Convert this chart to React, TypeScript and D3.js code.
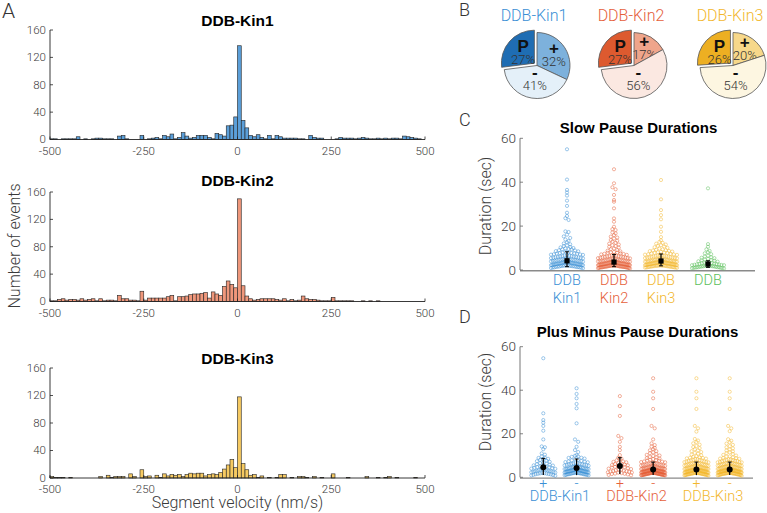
import React from 'react';
import * as d3 from 'd3';

// ---------- Panel A: histogram data (bins of 10 nm/s from -500 to 500) ----------
const BIN_WIDTH = 10;
const BIN_STARTS = d3.range(-500, 500, BIN_WIDTH);
const KIN1_COUNTS = [
  1, 1, 0, 1, 1, 1, 1, 4, 0, 1,
  0, 1, 2, 2, 1, 1, 1, 0, 5, 6,
  1, 0, 0, 0, 6, 0, 1, 2, 3, 1,
  6, 4, 8, 1, 3, 10, 5, 2, 3, 6,
  6, 6, 3, 1, 9, 7, 5, 20, 21, 33,
  137, 28, 17, 6, 4, 7, 3, 1, 6, 1,
  6, 4, 2, 2, 2, 2, 1, 1, 0, 6,
  3, 2, 2, 0, 0, 0, 1, 3, 2, 2,
  2, 1, 2, 3, 2, 1, 1, 2, 1, 2,
  1, 2, 2, 1, 5, 4, 3, 2, 1, 0,
];
const KIN2_COUNTS = [
  1, 1, 3, 4, 2, 3, 3, 2, 4, 2,
  3, 4, 1, 4, 1, 2, 2, 1, 9, 4,
  4, 2, 2, 1, 15, 2, 5, 5, 5, 5,
  5, 7, 9, 1, 7, 7, 8, 10, 11, 11,
  12, 13, 5, 14, 11, 9, 22, 30, 25, 20,
  150, 23, 8, 4, 2, 3, 4, 4, 4, 4,
  3, 2, 4, 1, 3, 1, 2, 8, 4, 3,
  3, 2, 1, 1, 1, 6, 1, 1, 1, 1,
  1, 0, 0, 1, 0, 1, 0, 1, 0, 0,
  0, 0, 0, 0, 0, 0, 0, 0, 0, 0,
];
const KIN3_COUNTS = [
  2, 1, 1, 1, 0, 1, 0, 0, 0, 0,
  0, 0, 0, 2, 0, 4, 1, 2, 2, 2,
  0, 6, 2, 0, 12, 2, 3, 0, 4, 1,
  6, 3, 5, 4, 5, 2, 5, 7, 6, 7,
  7, 3, 5, 6, 5, 8, 13, 19, 27, 15,
  118, 21, 12, 4, 5, 1, 3, 0, 1, 0,
  1, 5, 5, 0, 1, 0, 2, 2, 1, 0,
  2, 0, 1, 0, 0, 6, 0, 0, 0, 1,
  0, 0, 0, 0, 2, 0, 0, 1, 0, 1,
  2, 0, 1, 0, 0, 0, 0, 1, 0, 0,
];
const HIST_TITLES = ['DDB-Kin1', 'DDB-Kin2', 'DDB-Kin3'];
const HIST_X_TICKS = [-500, -250, 0, 250, 500];
const HIST_Y_TICKS = [0, 40, 80, 120, 160];

// ---------- Panel B: pies ----------
const PIE_TITLES = ['DDB-Kin1', 'DDB-Kin2', 'DDB-Kin3'];
const PIE_PLUS = [32, 17, 20];
const PIE_MINUS = [41, 56, 54];
const PIE_PAUSE = [27, 27, 26];
const PIE_SYMBOLS = ['+', '-', 'P'];

// ---------- Panel C: slow pause durations (sec) ----------
const C_LABELS = [['DDB', 'Kin1'], ['DDB', 'Kin2'], ['DDB', 'Kin3'], ['DDB']];
const C_KIN1 = [55.0, 41.2, 36.5, 35.3, 33.9, 31.6, 29.2, 26.1, 24.6, 23.6, 22.8, 17.6, 17.3, 16.1, 15.3, 14.6, 13.9, 13.2, 12.6, 12.1, 11.7, 11.2, 10.9, 10.5, 10.3, 10.0,
  9.8, 3.1, 5.6, 2.4, 7.2, 1.8, 4.4, 9.3, 2.9, 6.1, 3.7, 1.2, 8.6, 4.9, 2.2, 5.2, 3.3, 7.8, 1.5, 6.6, 2.7, 4.1, 9.0, 3.5, 1.9, 5.8, 2.5, 8.1, 4.6, 1.1, 3.9, 6.9, 2.1, 5.0,
  7.5, 3.0, 1.6, 4.3, 8.9, 2.8, 6.3, 3.6, 1.3, 5.4, 9.6, 2.3, 4.7, 7.0, 1.7, 3.2, 6.0, 2.0, 8.3, 4.0, 1.0, 5.5, 3.4, 7.4, 2.6, 4.8, 1.4, 6.5, 3.8, 9.4, 2.1, 5.1, 0.8,
  4.2, 7.7, 2.9, 3.3, 6.2, 1.9, 4.5, 8.0, 2.4, 5.7, 3.0, 1.2, 6.8, 4.1, 2.6, 3.7, 7.1, 1.6, 5.3, 2.2, 4.9, 0.9, 3.5, 8.5, 2.8, 6.4, 1.8, 4.6, 3.1, 5.9, 2.3, 7.6, 1.4];
const C_KIN2 = [45.9, 39.5, 37.7, 36.8, 34.2, 31.9, 31.1, 28.1, 23.5, 22.0, 19.7, 18.6, 18.2, 17.1, 16.7, 15.9, 15.2, 14.8, 14.3, 13.7, 13.3, 12.9, 12.4, 12.0, 11.6, 11.3, 10.9, 10.6, 10.2,
  3.2, 1.4, 5.1, 2.6, 7.4, 0.9, 4.0, 2.1, 6.3, 3.6, 1.7, 8.8, 2.9, 4.7, 1.2, 5.8, 3.0, 2.3, 9.5, 1.9, 4.4, 3.3, 6.9, 2.5, 1.5, 5.3, 3.8, 2.0, 7.9, 1.1, 4.2, 2.7, 6.0,
  3.4, 1.6, 8.2, 2.2, 4.9, 3.1, 1.3, 5.6, 2.8, 7.1, 1.8, 3.9, 2.4, 6.6, 1.0, 4.5, 3.2, 2.0, 9.1, 1.5, 5.0, 2.6, 3.7, 1.2, 6.2, 2.9, 4.1, 0.8, 7.6, 3.5, 1.9, 5.4, 2.3,
  4.8, 1.4, 3.0, 8.5, 2.1, 6.8, 1.7, 4.3, 2.7, 3.6, 1.1, 5.9, 2.4, 7.3, 1.6, 3.3, 4.6, 2.0, 9.8, 1.3, 5.2, 2.8, 3.9, 1.0, 6.4, 2.5, 4.0, 1.8, 3.4, 7.8, 2.2, 5.7, 1.5,
  3.1, 2.6, 4.4, 0.7, 6.1, 1.9, 3.7, 2.3, 5.5, 1.2, 8.0, 2.9, 4.2, 1.6, 3.5, 2.1, 6.7, 1.4, 4.9];
const C_KIN3 = [41.0, 32.2, 27.3, 25.0, 23.1, 19.7, 17.4, 15.0, 13.5, 12.8, 12.4, 12.0, 11.6, 11.3, 11.0, 10.7, 10.4, 10.1,
  4.1, 2.3, 6.2, 1.5, 8.3, 3.4, 5.0, 2.7, 9.4, 1.9, 4.6, 3.0, 7.1, 2.1, 5.5, 1.2, 3.8, 6.8, 2.5, 4.3, 1.7, 8.9, 3.2, 5.8, 2.0, 4.0, 7.5, 1.4, 3.6, 2.8, 6.4, 4.8,
  1.1, 9.7, 3.3, 5.2, 2.2, 7.8, 1.8, 4.5, 3.0, 6.0, 2.6, 8.1, 1.3, 3.9, 5.6, 2.4, 4.2, 7.0, 1.6, 3.5, 9.0, 2.9, 5.1, 1.0, 6.6, 3.7, 2.1, 4.7, 8.6, 1.9, 3.1, 5.4,
  2.5, 7.3, 1.5, 4.4, 3.3, 6.1, 2.0, 9.2, 3.9, 1.2, 5.7, 2.7, 4.1, 7.7, 1.7, 3.4, 6.3, 2.3, 4.9, 1.4, 8.4, 3.0, 5.3, 2.8, 6.9, 1.8, 4.0, 3.6, 2.2, 7.2, 1.1, 5.0,
  3.2, 4.6, 2.6, 8.7, 1.6, 3.8, 6.5, 2.4, 5.9, 1.3, 4.3, 3.1, 7.9, 2.0, 4.8, 1.9, 6.7, 3.5, 2.9];
const C_DDB = [37.2, 11.8, 10.6, 9.4, 3.6, 1.3, 8.7, 2.2, 5.1, 1.0, 8.1, 2.8, 4.5, 1.6, 7.6, 2.0, 0.8, 3.2, 7.2, 1.8, 6.5, 2.5, 4.2, 1.2, 6.1, 3.4, 1.5,
  5.8, 2.3, 0.9, 5.4, 2.9, 1.7, 4.8, 2.1, 1.1, 4.0, 2.6, 3.8, 1.4, 3.1, 1.9, 0.7, 2.4, 1.6, 3.5, 1.3, 2.7, 4.4, 1.0, 2.0, 5.6, 1.7, 2.2, 1.2];
const C_MEAN = [4.2, 3.6, 4.1, 2.7];
const C_LO = [1.5, 1.5, 1.9, 1.2];
const C_HI = [8.3, 7.1, 7.3, 4.2];

// ---------- Panel D: plus / minus pause durations (sec) ----------
const D_POSITIONS = [1, 2, 3.3, 4.3, 5.6, 6.6];
const D_SIGNS = ['+', '-', '+', '-', '+', '-'];
const D_GROUP_LABELS = ['DDB-Kin1', 'DDB-Kin2', 'DDB-Kin3'];
const D_KIN1_PLUS = [54.7, 29.4, 26.3, 25.1, 23.6, 21.4, 17.4, 14.2, 13.8, 12.9, 11.0, 10.4, 9.6, 2.4, 6.7, 1.3, 9.1, 3.9, 5.5, 1.8, 8.9, 4.4, 2.7, 8.5,
  3.3, 0.9, 6.3, 2.0, 8.4, 4.8, 1.5, 8.0, 3.6, 5.2, 2.3, 7.6, 4.0, 1.1, 7.4, 3.1, 5.8, 2.6, 7.1, 4.6, 1.6, 6.0, 3.0, 2.2, 5.0, 3.7, 1.4, 4.2, 2.8, 1.9, 3.4, 0.7,
  4.7, 2.9, 5.4, 6.5, 1.7, 3.5, 1.0];
const D_KIN1_MINUS = [40.9, 38.3, 36.3, 33.7, 31.7, 24.8, 17.4, 16.3, 14.0, 12.5, 11.6, 10.2, 9.9,
  9.4, 3.1, 6.0, 2.2, 4.5, 1.3, 7.8, 3.6, 2.7, 5.2, 1.8, 8.6, 3.9, 2.4, 6.7, 1.1, 4.1, 3.0, 5.7, 2.0, 7.2, 1.6, 3.4, 4.8, 2.6, 9.0, 1.4, 3.8, 5.5, 2.1, 6.3, 1.9,
  4.3, 3.2, 8.1, 2.5, 1.0, 5.0, 3.5, 7.0, 1.7, 2.9, 4.6, 6.6, 2.3, 3.7, 1.2, 5.3, 2.8, 8.9, 4.0, 1.5, 3.3, 6.2, 2.0, 4.9, 1.8, 7.5, 3.0, 2.4, 5.8, 1.3, 4.4, 3.6,
  9.6, 2.2, 6.9, 1.6, 3.9, 2.7, 5.1, 1.1, 4.2, 8.3, 2.6, 3.4, 6.4, 1.9, 4.7, 2.1, 7.3, 3.1, 1.4, 5.6, 2.9, 4.0, 0.9, 3.8, 6.0, 2.5];
const D_KIN2_PLUS = [37.3, 32.7, 28.2, 19.0, 18.0, 16.3, 14.0, 12.5, 10.2, 9.0, 3.8, 8.6, 1.3, 8.2, 5.0, 7.8, 2.5, 7.3, 4.2, 6.9, 1.9, 6.5, 3.3, 6.1, 0.9, 5.8,
  2.9, 5.5, 4.0, 5.2, 1.5, 4.7, 2.1, 4.5, 3.5, 1.1, 3.1, 2.7, 2.3, 1.7, 6.3, 3.6, 2.2, 4.8, 1.6, 7.1, 5.6, 2.8];
const D_KIN2_MINUS = [45.5, 39.3, 36.3, 31.4, 23.6, 22.5, 17.4, 15.6, 14.8, 14.1, 13.5, 12.9, 12.4, 12.0, 11.5, 11.1, 10.7, 10.3, 10.0,
  2.1, 4.3, 1.2, 3.5, 6.8, 1.8, 2.9, 5.1, 0.9, 3.2, 7.9, 2.4, 1.5, 4.6, 2.7, 9.3, 1.1, 3.8, 5.7, 2.0, 1.6, 4.0, 2.5, 8.4, 1.3, 3.0, 6.2, 2.2, 1.9, 4.8, 3.4, 1.0,
  7.3, 2.6, 3.9, 1.4, 5.4, 2.3, 1.7, 9.8, 3.1, 2.8, 4.4, 1.2, 6.5, 2.0, 3.6, 1.6, 5.0, 2.5, 8.8, 1.1, 3.3, 4.1, 2.1, 7.0, 1.8, 2.9, 5.9, 1.4, 3.7, 2.4, 4.7, 1.0,
  6.0, 2.7, 3.2, 1.5, 8.1, 2.2, 4.2, 1.9, 3.5, 5.3, 1.3, 2.6, 7.6, 3.9, 1.7, 2.0, 4.5, 1.1, 6.6, 3.0, 2.3, 5.6, 1.6, 9.1, 2.8, 3.4, 1.2, 4.9, 2.1, 7.2, 1.8, 3.8,
  2.5, 5.2, 1.4, 3.1, 6.3, 2.0, 1.0, 4.3, 2.7, 8.6, 1.5, 3.6, 2.2, 5.8, 1.9, 4.0, 2.9, 1.3, 6.9, 3.3, 2.4, 1.7, 4.6, 3.0, 7.7, 1.1, 2.6, 5.5, 3.7, 1.6, 2.1, 4.1, 1.2, 6.4];
const D_KIN3_PLUS = [45.5, 39.3, 36.3, 31.4, 23.6, 22.5, 21.0, 17.6, 16.9, 16.2, 15.6, 15.0, 14.4, 13.9, 13.4, 12.9, 12.4, 12.0, 11.6, 11.2, 10.8, 10.4, 10.1,
  4.1, 2.3, 6.2, 1.5, 8.3, 3.4, 5.0, 2.7, 9.4, 1.9, 4.6, 3.0, 7.1, 2.1, 5.5, 1.2, 3.8, 6.8, 2.5, 4.3, 1.7, 8.9, 3.2, 5.8, 2.0, 4.0, 7.5, 1.4, 3.6, 2.8, 6.4, 4.8,
  1.1, 9.7, 3.3, 5.2, 2.2, 7.8, 1.8, 4.5, 3.0, 6.0, 2.6, 8.1, 1.3, 3.9, 5.6, 2.4, 4.2, 7.0, 1.6, 3.5, 9.0, 2.9, 5.1, 1.0, 6.6, 3.7, 2.1, 4.7, 8.6, 1.9, 3.1, 5.4,
  2.5, 7.3, 1.5, 4.4, 3.3, 6.1, 2.0, 9.2, 3.9, 1.2, 5.7, 2.7, 4.1, 7.7, 1.7, 3.4, 6.3, 2.3, 4.9, 1.4, 8.4, 3.0, 5.3, 2.8, 6.9, 1.8, 4.0, 3.6, 2.2, 7.2, 1.1, 5.0,
  3.2, 4.6, 2.6, 8.7, 1.6, 3.8, 6.5, 2.4, 5.9, 1.3, 4.3, 3.1, 7.9, 2.0, 4.8, 1.9, 6.7, 3.5, 2.9, 0.9, 2.2, 1.4, 3.0, 1.7, 2.5, 1.0, 3.3, 1.2, 2.0, 0.8, 2.7, 1.5];
const D_KIN3_MINUS = [45.5, 39.3, 36.3, 31.4, 23.6, 22.5, 21.2, 17.5, 16.8, 16.1, 15.5, 14.9, 14.3, 13.8, 13.3, 12.8, 12.3, 11.9, 11.5, 11.1, 10.7, 10.3, 10.0,
  3.9, 2.2, 6.1, 1.6, 8.2, 3.5, 4.9, 2.6, 9.5, 1.8, 4.7, 3.1, 7.0, 2.0, 5.4, 1.3, 3.7, 6.9, 2.4, 4.2, 1.8, 8.8, 3.3, 5.9, 2.1, 4.1, 7.4, 1.5, 3.5, 2.9, 6.3, 4.7,
  1.2, 9.6, 3.2, 5.3, 2.3, 7.9, 1.7, 4.6, 2.9, 6.1, 2.7, 8.0, 1.4, 3.8, 5.5, 2.5, 4.3, 6.9, 1.7, 3.6, 8.9, 2.8, 5.0, 1.1, 6.7, 3.6, 2.2, 4.8, 8.5, 2.0, 3.0, 5.5,
  2.4, 7.4, 1.6, 4.5, 3.4, 6.0, 2.1, 9.1, 3.8, 1.3, 5.8, 2.6, 4.0, 7.6, 1.8, 3.3, 6.4, 2.4, 5.0, 1.5, 8.3, 3.1, 5.2, 2.9, 6.8, 1.9, 4.1, 3.5, 2.3, 7.1, 1.0, 5.1,
  3.1, 4.5, 2.7, 8.6, 1.7, 3.9, 6.6, 2.5, 5.8, 1.2, 4.4, 3.0, 7.8, 2.1, 4.9, 1.8, 6.6, 3.4, 2.8, 1.0, 2.3, 1.3, 3.1, 1.6, 2.6, 0.9, 3.2, 1.1, 2.1, 0.7, 2.6, 1.4];
const D_MEAN = [4.6, 4.3, 5.2, 3.6, 3.6, 3.6];
const D_LO = [1.0, 1.0, 1.5, 1.0, 1.0, 1.0];
const D_HI = [8.7, 8.4, 9.0, 7.0, 7.0, 7.0];

// ---------- styles ----------
const LIGHT = "Roboto, 'Liberation Sans', Arial, sans-serif";
const BOLD = "'Liberation Sans', Arial, Helvetica, sans-serif";
const TEXT_GRAY = '#3a3a3a';
const KIN_COLORS = ['#3a8fd5', '#e5603a', '#f2b72e', '#5cbf5c'];
const HIST_FILLS = ['#5b9fd9', '#ef977b', '#f6ca62'];
const PIE_FILLS = [
  ['#7db1dc', '#e4f0f9', '#1f6db3'],
  ['#efa58b', '#fbe8e1', '#dd5a2f'],
  ['#f7d88a', '#fdf6e1', '#edaf22'],
];

type Pt = { x: number; y: number };

function spread(values: number[], y: d3.ScaleLinear<number, number>, cx: number, maxHalf: number, binPx = 3.4, gap = 3.2): Pt[] {
  const pts = values.map((v) => y(v)).sort((a, b) => a - b);
  const groups = d3.groups(pts, (p) => Math.floor(p / binPx));
  const out: Pt[] = [];
  groups.forEach(([, arr]) => {
    const n = arr.length;
    const step = n > 1 ? Math.min(gap, (2 * maxHalf) / (n - 1)) : 0;
    const slots = d3.range(n).map((s) => (s - (n - 1) / 2) * step);
    slots.sort((a, b) => Math.abs(a) - Math.abs(b) || a - b);
    arr.forEach((py, j) => out.push({ x: cx + slots[j], y: py }));
  });
  return out;
}

function Histogram({ counts, idx, top, base, titleY }: { counts: number[]; idx: number; top: number; base: number; titleY: number }) {
  const x = d3.scaleLinear().domain([-500, 500]).range([50, 425]);
  const y = d3.scaleLinear().domain([0, 160]).range([base, top]);
  return (
    <g>
      <text x={237.5} y={titleY} textAnchor="middle" fontFamily={BOLD} fontWeight="bold" fontSize={15.5} fill="#000">{HIST_TITLES[idx]}</text>
      {BIN_STARTS.map((b, i) => counts[i] > 0 ? (
        <rect key={i} x={x(b)} y={y(counts[i])} width={x(b + BIN_WIDTH) - x(b)} height={base - y(counts[i])}
          fill={HIST_FILLS[idx]} stroke="#222" strokeWidth={0.6} />
      ) : null)}
      <line x1={x(-500)} x2={x(500)} y1={base} y2={base} stroke="#222" strokeWidth={0.9} />
      <line x1={x(-500)} x2={x(-500)} y1={base} y2={top} stroke="#222" strokeWidth={0.9} />
      {HIST_Y_TICKS.map((t) => (
        <g key={t}>
          <line x1={x(-500)} x2={x(-500) + 3} y1={y(t)} y2={y(t)} stroke="#222" strokeWidth={0.8} />
          <text x={46} y={y(t)} dy="0.33em" textAnchor="end" fontFamily={LIGHT} fontWeight={300} fontSize={11.5} fill={TEXT_GRAY}>{t}</text>
        </g>
      ))}
      {HIST_X_TICKS.map((t) => (
        <g key={t}>
          <line x1={x(t)} x2={x(t)} y1={base} y2={base - 3} stroke="#222" strokeWidth={0.8} />
          <text x={x(t)} y={base + 15} textAnchor="middle" fontFamily={LIGHT} fontWeight={300} fontSize={11.5} fill={TEXT_GRAY}>{t}</text>
        </g>
      ))}
    </g>
  );
}

function Pie({ idx, cx, cy }: { idx: number; cx: number; cy: number }) {
  const R = 33;
  const values = [PIE_PLUS[idx], PIE_MINUS[idx], PIE_PAUSE[idx]];
  const arcs = d3.pie<number>().sort(null).value((d) => d)(values);
  const arc = d3.arc<d3.PieArcDatum<number>>().innerRadius(0).outerRadius(R);
  const labelR = [20, 14, 15];
  return (
    <g>
      <text x={cx - 3} y={20.5} textAnchor="middle" fontFamily={LIGHT} fontWeight={300} fontSize={16} fill={KIN_COLORS[idx]}>{PIE_TITLES[idx]}</text>
      {arcs.map((a, i) => {
        const mid = (a.startAngle + a.endAngle) / 2;
        const ex = i === 2 ? 3.5 : 0;
        const ox = cx + ex * Math.sin(mid);
        const oy = cy - ex * Math.cos(mid);
        const lx = ox + labelR[i] * Math.sin(mid);
        const ly = oy - labelR[i] * Math.cos(mid);
        return (
          <g key={i}>
            <path d={arc(a) || ''} transform={`translate(${ox},${oy})`} fill={PIE_FILLS[idx][i]} stroke="#555" strokeWidth={0.8} />
            <text x={lx} y={ly - 1} textAnchor="middle" fontFamily={BOLD} fontWeight="bold" fontSize={17} fill="#111">{PIE_SYMBOLS[i]}</text>
            <text x={lx} y={ly + 11} textAnchor="middle" fontFamily={LIGHT} fontWeight={300} fontSize={13} fill="#333">{values[i]}%</text>
          </g>
        );
      })}
    </g>
  );
}

function YAxis({ y, x0, x1 }: { y: d3.ScaleLinear<number, number>; x0: number; x1: number }) {
  const ticks = [0, 20, 40, 60];
  return (
    <g>
      <line x1={x0} x2={x1} y1={y(0) + 0.8} y2={y(0) + 0.8} stroke="#8a8a8a" strokeWidth={1.4} />
      <line x1={x0} x2={x0} y1={y(0)} y2={y(60)} stroke="#666" strokeWidth={0.9} />
      {ticks.map((t) => (
        <g key={t}>
          <line x1={x0} x2={x0 + 3} y1={y(t)} y2={y(t)} stroke="#666" strokeWidth={0.8} />
          <text x={x0 - 4} y={y(t)} dy="0.35em" textAnchor="end" fontFamily={LIGHT} fontWeight={300} fontSize={13.5} fill={TEXT_GRAY}>{t}</text>
        </g>
      ))}
    </g>
  );
}

export default function App() {
  // Panel C scales
  const cx = d3.scaleLinear().domain([0, 5]).range([520, 755]);
  const cy = d3.scaleLinear().domain([0, 60]).range([270, 138.3]);
  const cGroups = [C_KIN1, C_KIN2, C_KIN3, C_DDB];
  // Panel D scales
  const dx = d3.scaleLinear().domain([0.3, 7.3]).range([520, 753]);
  const dy = d3.scaleLinear().domain([0, 60]).range([477.3, 346.7]);
  const dGroups = [D_KIN1_PLUS, D_KIN1_MINUS, D_KIN2_PLUS, D_KIN2_MINUS, D_KIN3_PLUS, D_KIN3_MINUS];

  const histSpecs = [
    { counts: KIN1_COUNTS, top: 30, base: 139.5, titleY: 26 },
    { counts: KIN2_COUNTS, top: 192, base: 301.5, titleY: 186 },
    { counts: KIN3_COUNTS, top: 368, base: 478, titleY: 364 },
  ];

  return (
    <svg width={767} height={513} viewBox="0 0 767 513" style={{ position: 'absolute', left: 0, top: 0, background: '#fff' }}>
      <rect x={0} y={0} width={767} height={513} fill="#fff" />
      {/* Panel letters */}
      <text x={2} y={18} fontFamily={LIGHT} fontWeight={300} fontSize={21} fill="#333">A</text>
      <text x={459} y={16} fontFamily={LIGHT} fontWeight={300} fontSize={18} fill="#333">B</text>
      <text x={459} y={126} fontFamily={LIGHT} fontWeight={300} fontSize={18} fill="#333">C</text>
      <text x={459} y={323} fontFamily={LIGHT} fontWeight={300} fontSize={18} fill="#333">D</text>

      {/* Panel A */}
      {histSpecs.map((s, i) => (
        <Histogram key={i} idx={i} counts={s.counts} top={s.top} base={s.base} titleY={s.titleY} />
      ))}
      <text transform="translate(20,246) rotate(-90)" textAnchor="middle" fontFamily={LIGHT} fontWeight={300} fontSize={16} fill={TEXT_GRAY}>Number of events</text>
      <text x={237.5} y={508} textAnchor="middle" fontFamily={LIGHT} fontWeight={300} fontSize={16} fill={TEXT_GRAY}>Segment velocity (nm/s)</text>

      {/* Panel B */}
      <Pie idx={0} cx={537} cy={65.5} />
      <Pie idx={1} cx={634} cy={65.5} />
      <Pie idx={2} cx={733} cy={65.5} />

      {/* Panel C */}
      <text x={638.5} y={133} textAnchor="middle" fontFamily={BOLD} fontWeight="bold" fontSize={15} fill="#000">Slow Pause Durations</text>
      <YAxis y={cy} x0={520} x1={755} />
      <text transform="translate(491,206) rotate(-90)" textAnchor="middle" fontFamily={LIGHT} fontWeight={300} fontSize={16} fill={TEXT_GRAY}>Duration (sec)</text>
      {cGroups.map((g, gi) => (
        <g key={gi}>
          {spread(g, cy, cx(gi + 1), 16).map((p, k) => (
            <circle key={k} cx={p.x} cy={p.y} r={1.6} fill="none" stroke={KIN_COLORS[gi]} strokeWidth={0.7} strokeOpacity={0.7} />
          ))}
        </g>
      ))}
      {C_MEAN.map((m, i) => (
        <g key={i}>
          <line x1={cx(i + 1)} x2={cx(i + 1)} y1={cy(C_LO[i])} y2={cy(C_HI[i])} stroke="#000" strokeWidth={1.2} />
          <line x1={cx(i + 1) - 2} x2={cx(i + 1) + 2} y1={cy(C_HI[i])} y2={cy(C_HI[i])} stroke="#000" strokeWidth={1} />
          <line x1={cx(i + 1) - 2} x2={cx(i + 1) + 2} y1={cy(C_LO[i])} y2={cy(C_LO[i])} stroke="#000" strokeWidth={1} />
          <rect x={cx(i + 1) - 2.6} y={cy(m) - 2.6} width={5.2} height={5.2} fill="#000" />
        </g>
      ))}
      {C_LABELS.map((lines, i) => (
        <text key={i} textAnchor="middle" fontFamily={LIGHT} fontWeight={300} fontSize={14.5} fill={KIN_COLORS[i]}>
          {lines.map((l, j) => (
            <tspan key={j} x={cx(i + 1)} y={285 + j * 18}>{l}</tspan>
          ))}
        </text>
      ))}

      {/* Panel D */}
      <text x={637.5} y={336.5} textAnchor="middle" fontFamily={BOLD} fontWeight="bold" fontSize={15} fill="#000">Plus Minus Pause Durations</text>
      <YAxis y={dy} x0={520} x1={753} />
      <text transform="translate(491,402) rotate(-90)" textAnchor="middle" fontFamily={LIGHT} fontWeight={300} fontSize={16} fill={TEXT_GRAY}>Duration (sec)</text>
      {dGroups.map((g, gi) => (
        <g key={gi}>
          {spread(g, dy, dx(D_POSITIONS[gi]), 12).map((p, k) => (
            <circle key={k} cx={p.x} cy={p.y} r={1.6} fill="none" stroke={KIN_COLORS[Math.floor(gi / 2)]} strokeWidth={0.7} strokeOpacity={0.7} />
          ))}
        </g>
      ))}
      {D_MEAN.map((m, i) => (
        <g key={i}>
          <line x1={dx(D_POSITIONS[i])} x2={dx(D_POSITIONS[i])} y1={dy(D_LO[i])} y2={dy(D_HI[i])} stroke="#000" strokeWidth={1.2} />
          <line x1={dx(D_POSITIONS[i]) - 2} x2={dx(D_POSITIONS[i]) + 2} y1={dy(D_HI[i])} y2={dy(D_HI[i])} stroke="#000" strokeWidth={1} />
          <circle cx={dx(D_POSITIONS[i])} cy={dy(m)} r={3} fill="#000" />
        </g>
      ))}
      {D_SIGNS.map((s, i) => (
        <text key={i} x={dx(D_POSITIONS[i])} y={488} textAnchor="middle" fontFamily={LIGHT} fontWeight={300} fontSize={14} fill={KIN_COLORS[Math.floor(i / 2)]}>{s}</text>
      ))}
      {D_GROUP_LABELS.map((l, i) => (
        <text key={i} x={(dx(D_POSITIONS[2 * i]) + dx(D_POSITIONS[2 * i + 1])) / 2} y={501} textAnchor="middle" fontFamily={LIGHT} fontWeight={300} fontSize={14.5} fill={KIN_COLORS[i]}>{l}</text>
      ))}
    </svg>
  );
}
